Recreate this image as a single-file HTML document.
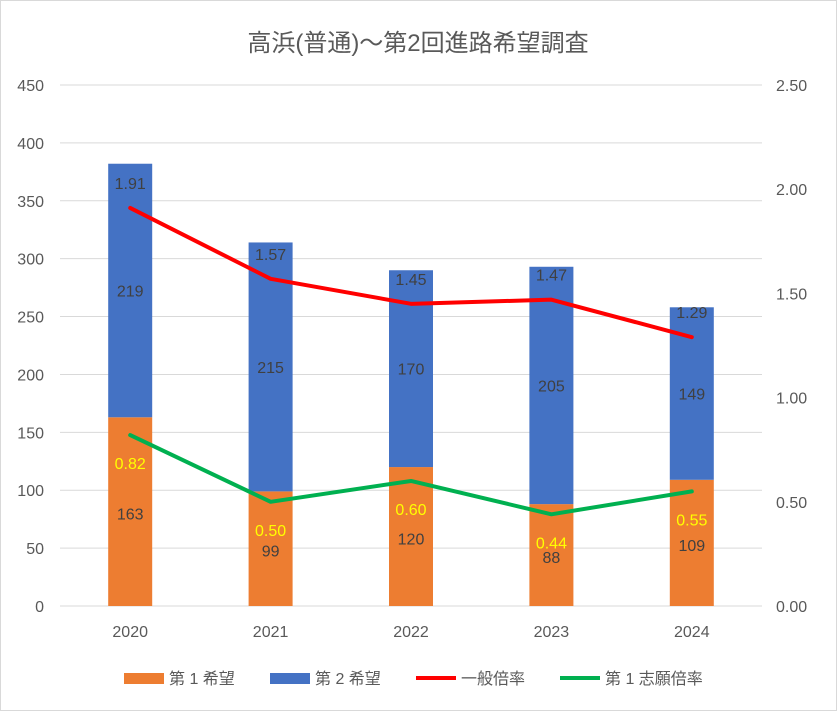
<!DOCTYPE html>
<html><head><meta charset="utf-8"><style>
html,body{margin:0;padding:0;background:#fff;}
svg{display:block;font-family:"Liberation Sans","Noto Sans CJK JP",sans-serif;}
</style></head><body>
<svg width="837" height="711" viewBox="0 0 837 711">
<rect x="0.5" y="0.5" width="836" height="710" fill="#fff" stroke="#d9d9d9"/>
<text x="418" y="51" text-anchor="middle" font-size="24" fill="#595959">高浜(普通)～第2回進路希望調査</text>
<g id="grid"></g><g id="bars"></g><g id="lines"></g><g id="labels"></g><g id="axes"></g>
<g font-size="16" fill="#595959">
<rect x="124" y="673" width="40" height="11" fill="#ED7D31"/>
<text x="169" y="684">第 1 希望</text>
<rect x="270" y="673" width="40" height="11" fill="#4472C4"/>
<text x="315" y="684">第 2 希望</text>
<line x1="416" y1="678" x2="456" y2="678" stroke="#FF0000" stroke-width="4"/>
<text x="461" y="684">一般倍率</text>
<line x1="560" y1="678" x2="600" y2="678" stroke="#00B050" stroke-width="4"/>
<text x="605" y="684">第 1 志願倍率</text>
</g>
</svg>
<script>
const categories=["2020","2021","2022","2023","2024"];
const firstChoice=[163,99,120,88,109];
const secondChoice=[219,215,170,205,149];
const generalRate=[1.91,1.57,1.45,1.47,1.29];
const firstRate=[0.82,0.50,0.60,0.44,0.55];
const leftTicks=[0,50,100,150,200,250,300,350,400,450];
const rightTicks=["0.00","0.50","1.00","1.50","2.00","2.50"];

const NS="http://www.w3.org/2000/svg";
const X0=60,X1=762,Y0=606,Y1=85,LMAX=450,RMAX=2.5;
const yL=v=>Y0-v/LMAX*(Y0-Y1);
const yR=v=>Y0-v/RMAX*(Y0-Y1);
const step=(X1-X0)/categories.length;
const xC=i=>X0+step*(i+0.5);
const BW=44;
function mk(tag,attrs,parent,text){const e=document.createElementNS(NS,tag);for(const k in attrs)e.setAttribute(k,attrs[k]);if(text!==undefined)e.textContent=text;document.getElementById(parent).appendChild(e);return e;}

leftTicks.forEach(t=>{
  const g=mk('line',{x1:X0,x2:X1,y1:yL(t),y2:yL(t),stroke:t===0?'#d9d9d9':'#d9d9d9','stroke-width':1},'grid');
  
  
  const l=mk('text',{x:44,y:yL(t)+6,'text-anchor':'end','font-size':16,fill:'#595959'},'axes',String(t));
  
  
});
rightTicks.forEach(t=>{
  const l=mk('text',{x:776,y:yR(parseFloat(t))+6,'font-size':16,fill:'#595959'},'axes',t);
  
  
});
categories.forEach((c,i)=>{
  const l=mk('text',{x:xC(i),y:637,'text-anchor':'middle','font-size':16,fill:'#595959'},'axes',c);
  
  
  const a=firstChoice[i],b=secondChoice[i];
  const r1=mk('rect',{x:xC(i)-BW/2,y:yL(a),width:BW,height:Y0-yL(a),fill:'#ED7D31'},'bars');
  
  
  const r2=mk('rect',{x:xC(i)-BW/2,y:yL(a+b),width:BW,height:yL(a)-yL(a+b),fill:'#4472C4'},'bars');
  
  
  const t1=mk('text',{x:xC(i),y:(yL(a)+Y0)/2+8,'text-anchor':'middle','font-size':16,fill:'#404040'},'labels',String(a));
  
  
  const t2=mk('text',{x:xC(i),y:(yL(a)+yL(a+b))/2+6,'text-anchor':'middle','font-size':16,fill:'#404040'},'labels',String(b));
  
  
  const t3=mk('text',{x:xC(i),y:yR(generalRate[i])-19,'text-anchor':'middle','font-size':16,fill:'#404040'},'labels',generalRate[i].toFixed(2));
  
  
  const t4=mk('text',{x:xC(i),y:yR(firstRate[i])+34,'text-anchor':'middle','font-size':16,fill:'#FFFF00'},'labels',firstRate[i].toFixed(2));
  
  
});
const p1=mk('polyline',{points:generalRate.map((v,i)=>xC(i)+','+yR(v)).join(' '),fill:'none',stroke:'#FF0000','stroke-width':4,'stroke-linejoin':'round','stroke-linecap':'round'},'lines');


const p2=mk('polyline',{points:firstRate.map((v,i)=>xC(i)+','+yR(v)).join(' '),fill:'none',stroke:'#00B050','stroke-width':4,'stroke-linejoin':'round','stroke-linecap':'round'},'lines');


</script>
</body></html>
